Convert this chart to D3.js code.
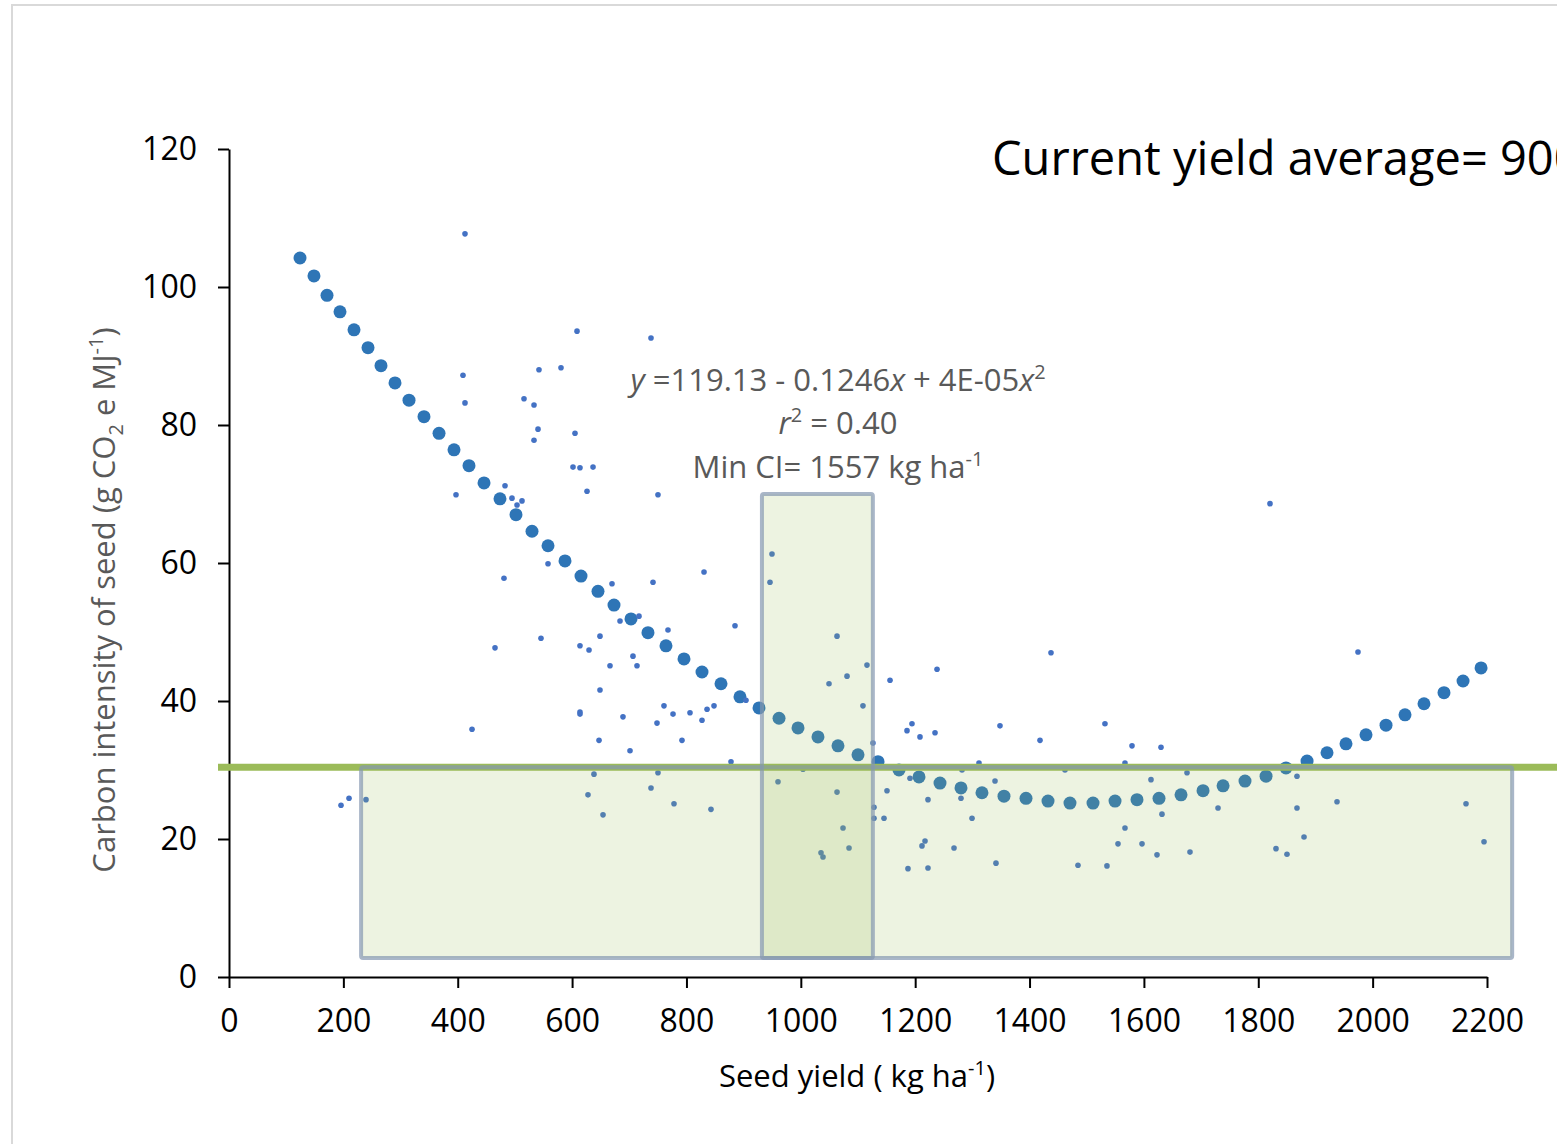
<!DOCTYPE html>
<html>
<head>
<meta charset="utf-8">
<script src="https://cdn.jsdelivr.net/npm/d3@7"></script>
<style>
  body { margin: 0; background: #fff; }
  svg { display: block; font-family: "Open Sans", sans-serif; }
</style>
</head>
<body>
<div id="chart"></div>
<script>
// fitted quadratic
const fitX = [124.2,148.6,171.4,194.1,218.6,243.1,265.8,290.3,314.8,341.0,367.3,393.5,419.7,446.0,473.9,501.9,529.9,557.9,587.6,615.6,645.3,673.3,703.0,732.7,764.2,795.7,827.2,860.4,893.6,926.9,961.9,995.1,1030.0,1065.0,1100.0,1135.0,1171.7,1206.7,1243.4,1280.1,1316.8,1355.3,1393.8,1432.3,1470.7,1511.0,1549.5,1587.9,1626.4,1664.9,1703.4,1738.4,1776.8,1813.6,1848.5,1885.3,1920.2,1953.4,1988.4,2023.4,2056.6,2089.8,2124.8,2158.1,2189.6]
const fitY = [104.2,101.6,98.8,96.4,93.8,91.2,88.6,86.1,83.6,81.2,78.8,76.4,74.1,71.6,69.3,67.0,64.6,62.5,60.3,58.1,55.9,53.9,51.9,49.9,48.0,46.1,44.2,42.5,40.6,39.0,37.5,36.1,34.8,33.5,32.2,31.2,30.0,29.0,28.1,27.4,26.7,26.2,25.9,25.5,25.2,25.2,25.5,25.7,25.9,26.4,27.0,27.7,28.4,29.1,30.3,31.3,32.5,33.8,35.1,36.5,38.0,39.6,41.2,42.9,44.8]

// observed sites (small dots)
const obsX = [412.7,608.6,738.0,409.2,412.7,542.1,580.6,515.9,533.4,540.4,533.4,605.1,601.6,613.8,636.6,626.1,750.2,397.0,482.7,494.9,503.7,512.4,557.9,480.9,669.8,741.5,830.7,949.6,946.1,683.8,717.0,767.7,648.8,613.8,629.6,706.5,666.3,713.5,884.9,545.6,465.2,425.0,648.8,613.8,613.8,689.0,760.7,776.5,748.5,806.2,827.2,836.0,848.2,904.1,647.1,701.3,792.2,877.9,638.3,750.2,627.8,738.0,778.2,654.1,842.9,960.1,1063.3,1049.3,1080.8,1063.3,1073.8,1084.3,1035.3,1038.8,1115.7,1108.7,1126.2,1156.0,1238.2,1185.7,1194.4,1208.4,1234.7,1348.3,1437.5,1418.3,1531.9,1579.2,1629.9,1190.9,1150.7,1222.4,1280.1,1339.6,1128.0,1128.0,1145.5,1299.4,1612.4,1675.4,1631.6,1566.9,1554.7,1596.7,1622.9,1680.6,1217.2,1211.9,1267.9,1187.4,1222.4,1341.3,1484.7,1535.4,1311.6,1281.9,1462.0,1566.9,1974.4,1820.5,1867.7,1729.6,1867.7,1937.7,2163.3,1880.0,1831.0,1850.2,2194.8,195.9,209.9,239.6,1003.8]
const obsY = [107.7,93.6,92.6,87.2,83.2,88.0,88.3,83.8,82.9,79.4,77.8,78.8,73.9,73.8,73.9,70.4,69.9,69.9,71.2,69.4,68.4,69.0,59.9,57.8,57.0,57.2,58.7,61.3,57.2,51.6,52.3,50.3,49.4,48.0,47.4,46.5,45.1,45.1,50.9,49.1,47.7,35.9,41.6,38.4,38.1,37.7,39.3,38.1,36.8,38.3,37.2,38.8,39.3,40.1,34.3,32.8,34.3,31.2,29.4,29.6,26.4,27.4,25.1,23.5,24.3,28.3,49.4,42.5,43.6,26.8,21.6,18.7,18.0,17.4,45.2,39.3,33.9,43.0,44.6,35.7,36.7,34.8,35.4,36.4,47.0,34.3,36.7,33.5,33.3,28.8,27.0,25.7,25.9,28.4,24.6,23.0,23.0,23.0,28.6,29.6,23.6,21.6,19.3,19.3,17.7,18.1,19.7,19.0,18.7,15.7,15.8,16.5,16.2,16.1,31.0,30.0,30.0,31.0,47.1,68.6,29.1,24.5,24.5,25.4,25.1,20.3,18.6,17.8,19.6,24.9,25.9,25.7,30.1]

const xTicks = [0,200,400,600,800,1000,1200,1400,1600,1800,2000,2200]
const yTicks = [0,20,40,60,80,100,120]

// current CI line and the two shaded boxes [x0, x1, y0, y1]
const currentCI = 30.4
const boxWide = [231, 2244, 2.75, 30.4]
const boxYield = [932, 1126, 2.75, 70.0]

const W = 1557, H = 1144
const m = {left: 229, top: 149, right: 70, bottom: 167}

const svg = d3.select("#chart").append("svg").attr("width", W).attr("height", H)

// faint frame of the original figure
svg.append("line").attr("x1", 11).attr("x2", W).attr("y1", 5).attr("y2", 5).attr("stroke", "#d9d9d9").attr("stroke-width", 2)
svg.append("line").attr("x1", 12).attr("x2", 12).attr("y1", 5).attr("y2", H).attr("stroke", "#d9d9d9").attr("stroke-width", 2)

const x = d3.scaleLinear().domain([0, 2200]).range([m.left, W - m.right])
const y = d3.scaleLinear().domain([0, 120]).range([H - m.bottom, m.top])

let xAx = svg.append("g").attr("transform", `translate(0,${y(0)})`)
  .call(d3.axisBottom(x).tickValues(xTicks).tickSize(11).tickSizeOuter(0).tickPadding(21).tickFormat(d3.format("d")))
let yAx = svg.append("g").attr("transform", `translate(${x(0)},0)`)
  .call(d3.axisLeft(y).tickValues(yTicks).tickSize(11).tickSizeOuter(0).tickPadding(21))

;[xAx, yAx].forEach(function(a){
  a.selectAll("path,line").attr("stroke", "#000").attr("stroke-width", 2)
  a.selectAll("text").attr("font-size", 32).attr("fill", "#000").attr("font-family", "Open Sans")
})

// fitted curve dots
svg.append("g").selectAll("circle").data(fitX).enter().append("circle")
  .attr("cx", d => x(d)).attr("cy", (d, i) => y(fitY[i])).attr("r", 6.5).attr("fill", "#2E75B6")

// observations
svg.append("g").selectAll("circle").data(obsX).enter().append("circle")
  .attr("cx", d => x(d)).attr("cy", (d, i) => y(obsY[i])).attr("r", 2.8).attr("fill", "#4472C4")

// current CI line runs past the plot to the page edge
svg.append("line").attr("x1", x(0) - 11).attr("x2", W).attr("y1", y(currentCI)).attr("y2", y(currentCI))
  .attr("stroke", "#9BBB59").attr("stroke-width", 7)

// shaded boxes on top, semi transparent
;[boxWide, boxYield].forEach(function(b){
  svg.append("rect")
    .attr("x", x(b[0])).attr("y", y(b[3]))
    .attr("width", x(b[1]) - x(b[0])).attr("height", y(b[2]) - y(b[3]))
    .attr("rx", 2)
    .attr("fill", "#9BBB59").attr("fill-opacity", 0.18)
    .attr("stroke", "#8497B0").attr("stroke-opacity", 0.7).attr("stroke-width", 4)
})

// equation annotation
let eq = svg.append("g").attr("fill", "#595959").attr("font-size", 31).attr("text-anchor", "middle")
let t1 = eq.append("text").attr("x", 838).attr("y", 391)
t1.append("tspan").attr("font-style", "italic").text("y")
t1.append("tspan").text(" =119.13 - 0.1246")
t1.append("tspan").attr("font-style", "italic").text("x")
t1.append("tspan").text(" + 4E-05")
t1.append("tspan").attr("font-style", "italic").text("x")
t1.append("tspan").attr("font-size", 20).attr("dy", -12).text("2")
let t2 = eq.append("text").attr("x", 838).attr("y", 434)
t2.append("tspan").attr("font-style", "italic").text("r")
t2.append("tspan").attr("font-size", 20).attr("dy", -12).text("2")
t2.append("tspan").attr("dy", 12).text(" = 0.40")
let t3 = eq.append("text").attr("x", 838).attr("y", 478)
t3.append("tspan").text("Min CI= 1557 kg ha")
t3.append("tspan").attr("font-size", 20).attr("dy", -12).text("-1")

svg.append("text").attr("x", 992).attr("y", 175).attr("font-size", 47).attr("fill", "#000")
  .text("Current yield average= 900")

// axis titles
let xt = svg.append("text").attr("x", 857).attr("y", 1087).attr("text-anchor", "middle")
  .attr("font-size", 31).attr("fill", "#000")
xt.append("tspan").text("Seed yield ( kg ha")
xt.append("tspan").attr("font-size", 20).attr("dy", -12).text("-1")
xt.append("tspan").attr("dy", 12).text(")")

let yt = svg.append("text").attr("transform", `translate(115,600) rotate(-90)`).attr("text-anchor", "middle")
  .attr("font-size", 31).attr("fill", "#595959")
yt.append("tspan").text("Carbon intensity of seed (g CO")
yt.append("tspan").attr("font-size", 20).attr("dy", 8).text("2")
yt.append("tspan").attr("dy", -8).text(" e MJ")
yt.append("tspan").attr("font-size", 20).attr("dy", -12).text("-1")
yt.append("tspan").attr("dy", 12).text(")")
</script>
</body>
</html>
